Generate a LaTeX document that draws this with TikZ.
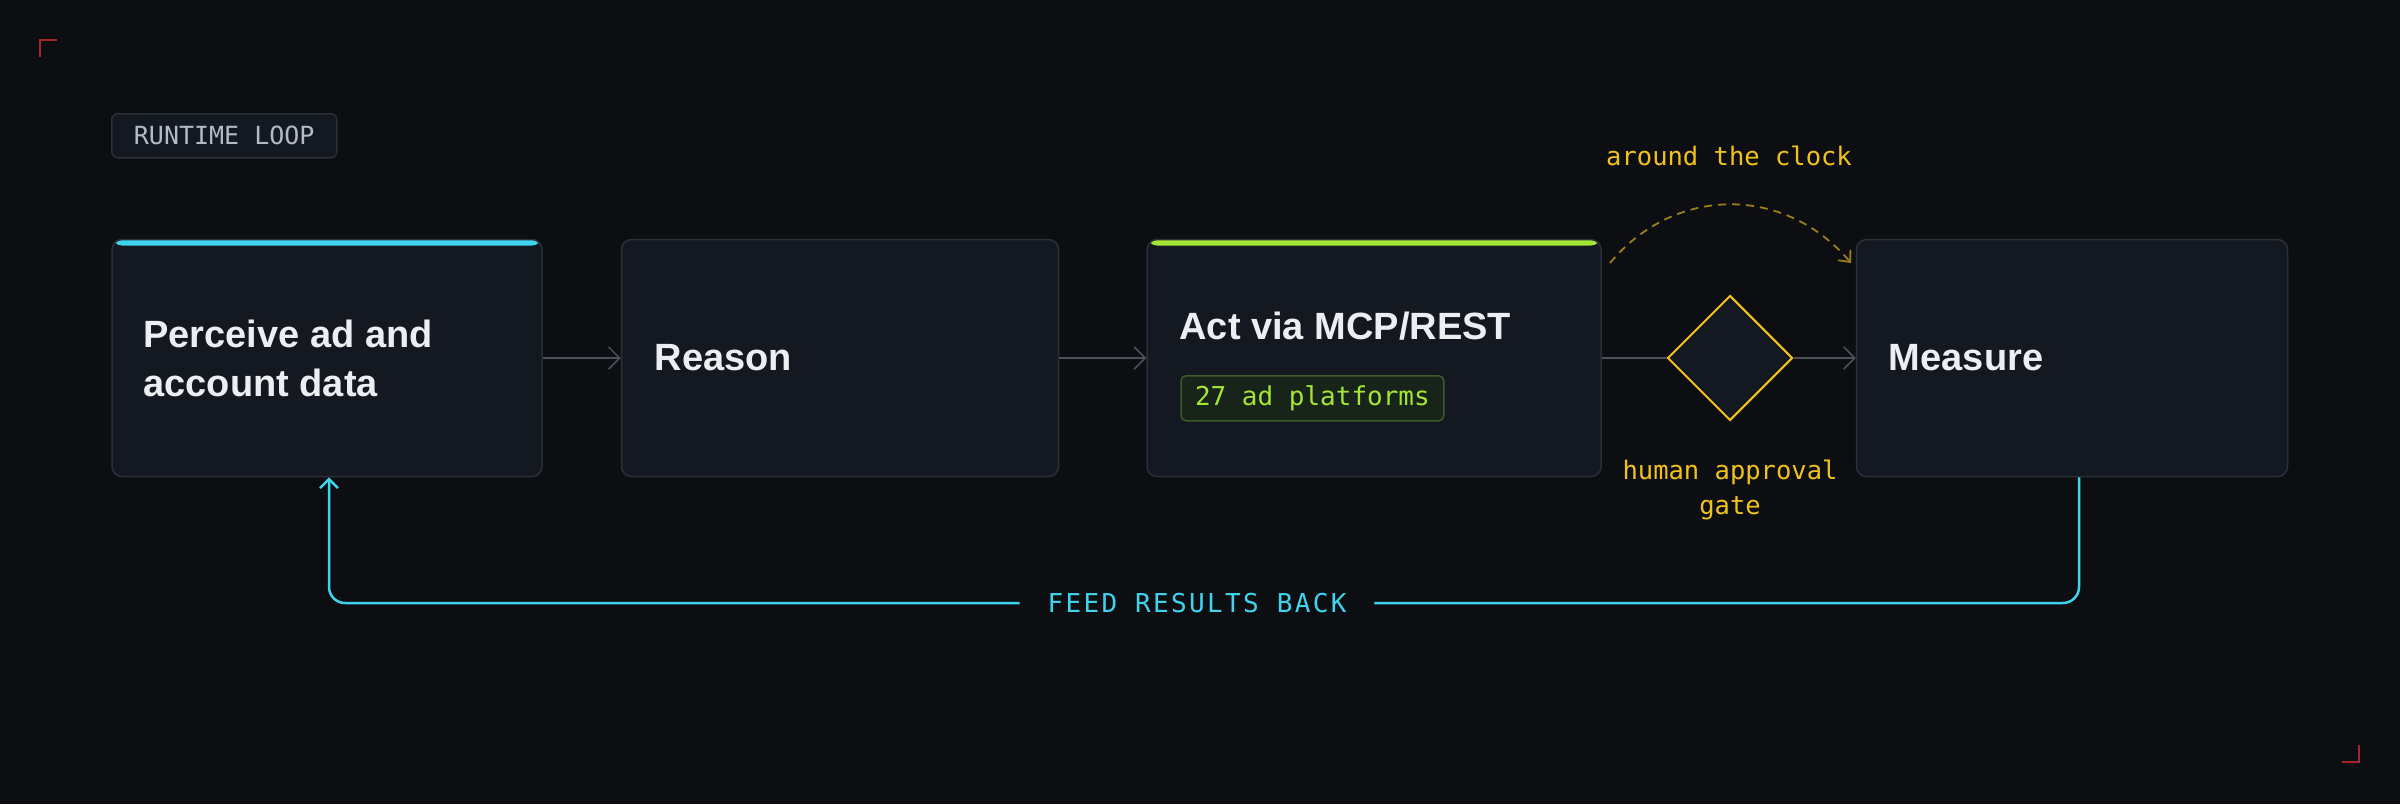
\documentclass[tikz,border=0pt]{standalone}
\usepackage{fontspec}
\setmainfont{Liberation Sans}
\newfontfamily\monofont{DejaVu Sans Mono}
\newfontfamily\monowide[LetterSpace=9]{DejaVu Sans Mono}
\usetikzlibrary{arrows.meta,shapes.geometric,positioning}

\definecolor{bg}{HTML}{0C0E12}
\definecolor{panel}{HTML}{131821}
\definecolor{edge}{HTML}{2A3039}
\definecolor{wire}{HTML}{4A505A}
\definecolor{ink}{HTML}{ECEEF2}
\definecolor{sky}{HTML}{3FD3EE}
\definecolor{lime}{HTML}{A3E635}
\definecolor{limefill}{HTML}{18241A}
\definecolor{limeedge}{HTML}{3D5A2C}
\definecolor{amber}{HTML}{F2C21B}
\definecolor{amberdim}{HTML}{9C7F1A}
\definecolor{dimtext}{HTML}{B4B9C2}
\definecolor{cropred}{HTML}{A3262A}

\tikzset{
  stage/.style={draw=edge, fill=panel, rounded corners=10pt, line width=1.5pt,
    minimum height=237pt, inner sep=0pt},
  topbar/.style={path picture={\fill[#1] ([yshift=2pt]path picture bounding box.north west)
    rectangle ([yshift=-6pt]path picture bounding box.north east);}},
  title/.style={text=ink, font=\fontsize{38}{49}\selectfont\bfseries, align=left, inner sep=0pt},
  flow/.style={draw=wire, line width=1.5pt, -{Straight Barb[length=11pt,width=22pt]}},
  note/.style={text=amber, font=\monofont\fontsize{25.5}{35}\selectfont, inner sep=0pt},
  crop/.style={draw=cropred, line width=2pt}
}

\begin{document}
\begin{tikzpicture}[x=1pt, y=-1pt]
\fill[bg] (0,0) rectangle (2400,804);
\useasboundingbox (0,0) rectangle (2400,804);

\draw[crop] (40,57) -- (40,40) -- (57,40);
\draw[crop] (2342,762) -- (2359,762) -- (2359,745);

\node[draw=edge, fill=panel, rounded corners=6pt, line width=1.5pt, anchor=north west,
  minimum width=225pt, minimum height=44pt, inner sep=0pt, text=dimtext,
  font=\monofont\fontsize{25}{30}\selectfont] (tag) at (111,113) {RUNTIME LOOP};

\node[stage, topbar=sky, minimum width=430pt] (perceive) at (327,358) {};
\node[stage, minimum width=437pt] (reason) at (840,358) {};
\node[stage, topbar=lime, minimum width=454pt] (act) at (1374,358) {};
\node[stage, minimum width=431pt] (measure) at (2072,358) {};
\node[diamond, draw=amber, fill=panel, line width=2pt, minimum size=125pt, inner sep=0pt] (gate) at (1730,358) {};

\node[title, right=32pt of perceive.west] (perceivetext) {Perceive ad and\\account data};
\node[title, right=34pt of reason.west] (reasontext) {Reason};
\node[title, anchor=base west] (acttext) at ([xshift=33pt,yshift=19pt]act.west) {Act via MCP/REST};
\node[title, right=33pt of measure.west] (measuretext) {Measure};

\node[draw=limeedge, fill=limefill, rounded corners=5pt, line width=1.5pt, anchor=north west,
  minimum height=45pt, inner xsep=14pt, inner ysep=0pt, text=lime,
  font=\monofont\fontsize{26}{30}\selectfont] (platforms) at ([xshift=1pt,yshift=-36pt]acttext.base west) {27 ad platforms};

\draw[flow] (perceive) -- (reason);
\draw[flow] (reason) -- (act);
\draw[draw=wire, line width=1.5pt] (act) -- (gate);
\draw[flow] (gate) -- (measure);

% around the clock
\coordinate (arcstart) at (1610,263);
\coordinate (arcend) at (1851,263);
\draw[amberdim, line width=1.8pt, dash pattern=on 8pt off 6pt,
  -{Straight Barb[length=9pt,width=16pt]}]
  (arcstart) .. controls (1675,185) and (1785,185) .. (arcend);
\node[note] (clocknote) at (1729,156) {around the clock};
\node[note, align=center, below=38pt of gate] (gatenote) {human approval\\gate};

% feed back
\coordinate (turn) at (0,603);
\coordinate (outlet) at ([xshift=7pt]measure.south);
\coordinate (inlet) at ([xshift=2pt]perceive.south);
\draw[sky, line width=2.5pt, rounded corners=16pt, -{Straight Barb[length=9pt,width=18pt]}]
  (outlet) -- (outlet |- turn)
  -- node[pos=.504, fill=bg, inner xsep=28pt, inner ysep=4pt, text=sky,
     font=\monowide\fontsize{26}{30}\selectfont] (feednote) {FEED RESULTS BACK}
  (inlet |- turn) -- (inlet);
\end{tikzpicture}
\end{document}
